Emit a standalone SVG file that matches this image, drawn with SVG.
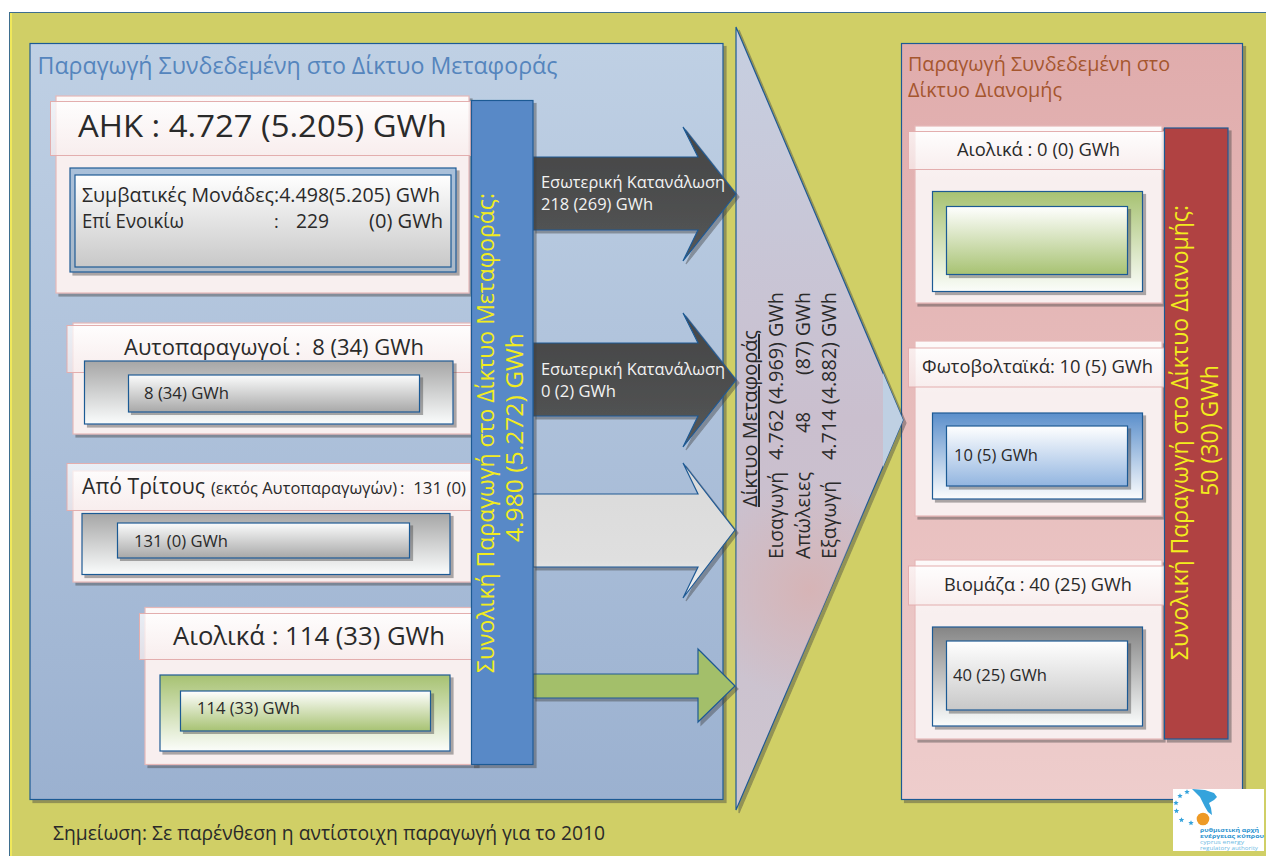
<svg xmlns="http://www.w3.org/2000/svg" xmlns:xlink="http://www.w3.org/1999/xlink" width="1266" height="856" viewBox="0 0 1266 856">
<defs>
<linearGradient id="gPanelL" x1="0" y1="0" x2="0" y2="1"><stop offset="0" stop-color="#BFD0E4"/><stop offset="1" stop-color="#9BB1D0"/></linearGradient>
<linearGradient id="gPanelR" x1="0" y1="0" x2="0" y2="1"><stop offset="0" stop-color="#E0ACAC"/><stop offset="1" stop-color="#EECDCC"/></linearGradient>
<linearGradient id="gCard" x1="0" y1="0" x2="0" y2="1"><stop offset="0" stop-color="#FDFAFA"/><stop offset="0.3" stop-color="#F8EFEF"/><stop offset="1" stop-color="#F8EFEF"/></linearGradient>
<linearGradient id="gHead" x1="0" y1="0" x2="0" y2="1"><stop offset="0" stop-color="#FFFFFF"/><stop offset="1" stop-color="#F8EDED"/></linearGradient>
<linearGradient id="gAhk" x1="0" y1="0" x2="0" y2="1"><stop offset="0" stop-color="#A9C0DA"/><stop offset="1" stop-color="#A9B8C8"/></linearGradient>
<linearGradient id="gWG" x1="0" y1="0" x2="0" y2="1"><stop offset="0" stop-color="#FFFFFF"/><stop offset="1" stop-color="#C8C8C8"/></linearGradient>
<linearGradient id="gGW" x1="0" y1="0" x2="0" y2="1"><stop offset="0" stop-color="#A6A6A6"/><stop offset="1" stop-color="#FAFCFC"/></linearGradient>
<linearGradient id="gDW" x1="0" y1="0" x2="0" y2="1"><stop offset="0" stop-color="#858585"/><stop offset="1" stop-color="#FAFCFC"/></linearGradient>
<linearGradient id="gWDG" x1="0" y1="0" x2="0" y2="1"><stop offset="0" stop-color="#FBFCFC"/><stop offset="1" stop-color="#A8A8A8"/></linearGradient>
<linearGradient id="gGrW" x1="0" y1="0" x2="0" y2="1"><stop offset="0" stop-color="#A7C272"/><stop offset="1" stop-color="#FBFDFA"/></linearGradient>
<linearGradient id="gWGr" x1="0" y1="0" x2="0" y2="1"><stop offset="0" stop-color="#FFFFFF"/><stop offset="1" stop-color="#A7C272"/></linearGradient>
<linearGradient id="gBW" x1="0" y1="0" x2="0" y2="1"><stop offset="0" stop-color="#5B8FCB"/><stop offset="1" stop-color="#FBFCFD"/></linearGradient>
<linearGradient id="gWB" x1="0" y1="0" x2="0" y2="1"><stop offset="0" stop-color="#FFFFFF"/><stop offset="1" stop-color="#92B5E0"/></linearGradient>
<linearGradient id="gHub" x1="0" y1="0" x2="0" y2="1"><stop offset="0" stop-color="#C6CFE1"/><stop offset="0.5" stop-color="#CABFCE"/><stop offset="1" stop-color="#CDC5D0"/></linearGradient>
<radialGradient id="gPink" gradientUnits="userSpaceOnUse" cx="810" cy="590" r="110"><stop offset="0" stop-color="#D6B4B6"/><stop offset="1" stop-color="#D6B4B6" stop-opacity="0"/></radialGradient>
<linearGradient id="gDark" x1="0" y1="0" x2="0" y2="1"><stop offset="0" stop-color="#444546"/><stop offset="1" stop-color="#555656"/></linearGradient>
<linearGradient id="gLight" x1="0" y1="0" x2="0" y2="1"><stop offset="0" stop-color="#DADADA"/><stop offset="0.72" stop-color="#DFDFDF"/><stop offset="1" stop-color="#F6F6F6"/></linearGradient>
<filter id="sh" x="-5%" y="-5%" width="112%" height="112%"><feDropShadow dx="3" dy="3" stdDeviation="0.4" flood-color="#3A3A3A" flood-opacity="0.42"/></filter>
<polygon id="star" points="0,-2.8 0.8,-0.9 2.7,-0.9 1.2,0.4 1.7,2.3 0,1.2 -1.7,2.3 -1.2,0.4 -2.7,-0.9 -0.8,-0.9"/>
</defs>
<style>
text{font-family:"Open Sans","Noto Sans","DejaVu Sans",sans-serif;fill:#2A2A2A}
.card{fill:url(#gCard);stroke:#E6B8B8;stroke-width:1.2;filter:url(#sh)}
.head{fill:url(#gHead);fill-opacity:.75;stroke:#E3AEAE;stroke-width:1}
.box{stroke:#1F5A94;stroke-width:1.2;filter:url(#sh)}
.flat{stroke:#1F5A94;stroke-width:1.2}
.y{fill:#F2EC1E}
.w{fill:#F2F2F2}
</style>
<rect x="0" y="0" width="1266" height="856" fill="#FFFFFF"/>
<rect x="9.500" y="12.500" width="1257" height="845" fill="#D0CF66" stroke="#3E6E8E" stroke-width="1"/>
<rect x="10" y="13" width="2" height="843" fill="#F0E85A"/>

<g id="panel-transmission">
<rect x="30" y="43.500" width="693" height="756" fill="url(#gPanelL)" class="box"/>
<text x="37.500" y="74" font-size="23" textLength="520" lengthAdjust="spacingAndGlyphs" style="fill:#5585BD">Παραγωγή Συνδεδεμένη στο Δίκτυο Μεταφοράς</text>
</g>

<g id="panel-distribution">
<rect x="901.500" y="43.500" width="341" height="756" fill="url(#gPanelR)" class="box"/>
<text x="908" y="71" font-size="20.500" textLength="262" lengthAdjust="spacingAndGlyphs" style="fill:#A5562E">Παραγωγή Συνδεδεμένη στο</text>
<text x="908" y="97" font-size="20.500" textLength="154" lengthAdjust="spacingAndGlyphs" style="fill:#A5562E">Δίκτυο Διανομής</text>
</g>

<g id="hub">
<polygon points="736,27 903,420 736,810" fill="url(#gHub)" class="box"/>
<polygon points="736,27 903,420 736,810" fill="url(#gPink)"/>
<polygon points="883,373 903,420 883,467" fill="#BFD0E3"/>
<text transform="translate(757,507) rotate(-90)" font-size="20" textLength="177" lengthAdjust="spacingAndGlyphs" text-decoration="underline">Δίκτυο Μεταφοράς</text>
<text transform="translate(783,559) rotate(-90)" font-size="20" textLength="87" lengthAdjust="spacingAndGlyphs">Εισαγωγή</text>
<text transform="translate(783,460) rotate(-90)" font-size="20" textLength="168" lengthAdjust="spacingAndGlyphs">4.762 (4.969) GWh</text>
<text transform="translate(810,559) rotate(-90)" font-size="20" textLength="87" lengthAdjust="spacingAndGlyphs">Απώλειες</text>
<text transform="translate(810,433) rotate(-90)" font-size="20" textLength="21" lengthAdjust="spacingAndGlyphs">48</text>
<text transform="translate(810,375) rotate(-90)" font-size="20" textLength="83" lengthAdjust="spacingAndGlyphs">(87) GWh</text>
<text transform="translate(836,559) rotate(-90)" font-size="20" textLength="78" lengthAdjust="spacingAndGlyphs">Εξαγωγή</text>
<text transform="translate(836,460) rotate(-90)" font-size="20" textLength="168" lengthAdjust="spacingAndGlyphs">4.714 (4.882) GWh</text>
</g>

<g id="connectors">
<polygon points="533,157 698,157 683,127 736,194 683,261 698,230 533,230" fill="url(#gDark)" class="box"/>
<polygon points="533,343 698,343 683,313 736,380 683,447 698,416 533,416" fill="url(#gDark)" class="box"/>
<polygon points="533,494 698,494 683,463 735,530 683,598 698,567 533,567" fill="url(#gLight)" class="box"/>
<polygon points="533,674 698,674 698,649 735,686 698,722 698,698 533,698" fill="#A3BF6B" class="box"/>
</g>
<text x="541" y="188" font-size="17" textLength="184" lengthAdjust="spacingAndGlyphs" class="w">Εσωτερική Κατανάλωση</text>
<text x="541" y="210" font-size="17" textLength="112" lengthAdjust="spacingAndGlyphs" class="w">218 (269) GWh</text>
<text x="541" y="375" font-size="17" textLength="184" lengthAdjust="spacingAndGlyphs" class="w">Εσωτερική Κατανάλωση</text>
<text x="541" y="397" font-size="17" textLength="75" lengthAdjust="spacingAndGlyphs" class="w">0 (2) GWh</text>

<g id="ahk">
<rect x="56" y="96" width="413" height="197" class="card"/>
<rect x="50.500" y="101.500" width="420" height="54" class="head"/>
<text x="78" y="137" font-size="31" textLength="369" lengthAdjust="spacingAndGlyphs">ΑΗΚ : 4.727 (5.205) GWh</text>
<rect x="70" y="168" width="386" height="104" fill="url(#gAhk)" class="box"/>
<rect x="75" y="175" width="376" height="92" fill="url(#gWG)" class="flat"/>
<text x="82" y="202" font-size="19.500" textLength="358" lengthAdjust="spacingAndGlyphs">Συμβατικές Μονάδες:4.498(5.205) GWh</text>
<text x="82" y="228" font-size="19.500" textLength="102" lengthAdjust="spacingAndGlyphs">Επί Ενοικίω</text>
<text x="274" y="228" font-size="18">:</text>
<text x="296" y="228" font-size="19.500" textLength="33" lengthAdjust="spacingAndGlyphs">229</text>
<text x="369" y="228" font-size="19.500" textLength="74" lengthAdjust="spacingAndGlyphs">(0) GWh</text>
</g>

<g id="autoproducers">
<rect x="73" y="323" width="398" height="111" class="card"/>
<rect x="67" y="325.500" width="404" height="47" class="head"/>
<text x="124" y="355" font-size="21" textLength="300" lengthAdjust="spacingAndGlyphs" xml:space="preserve">Αυτοπαραγωγοί :  8 (34) GWh</text>
<rect x="84.500" y="361" width="368.500" height="63" fill="url(#gGW)" class="box"/>
<rect x="128.500" y="375" width="291" height="37" fill="url(#gWDG)" class="box"/>
<text x="144" y="399" font-size="17" textLength="85" lengthAdjust="spacingAndGlyphs">8 (34) GWh</text>
</g>

<g id="third-party">
<rect x="73" y="471" width="398" height="111" class="card"/>
<rect x="67" y="463.500" width="404" height="47" class="head"/>
<text x="82" y="494" font-size="21" textLength="123" lengthAdjust="spacingAndGlyphs">Από Τρίτους</text>
<text x="211" y="494" font-size="15.500" textLength="186" lengthAdjust="spacingAndGlyphs">(εκτός Αυτοπαραγωγών)</text>
<text x="400" y="494" font-size="17" textLength="66" lengthAdjust="spacingAndGlyphs" xml:space="preserve">:  131 (0)</text>
<rect x="82" y="513.500" width="368" height="61" fill="url(#gGW)" class="box"/>
<rect x="117.500" y="523" width="292" height="35" fill="url(#gWDG)" class="box"/>
<text x="134" y="547" font-size="17" textLength="94" lengthAdjust="spacingAndGlyphs">131 (0) GWh</text>
</g>

<g id="wind-transmission">
<rect x="145" y="607.500" width="331" height="157" class="card"/>
<rect x="139.500" y="613.500" width="336" height="46" class="head"/>
<text x="173" y="645" font-size="25" textLength="272" lengthAdjust="spacingAndGlyphs">Αιολικά : 114 (33) GWh</text>
<rect x="160" y="675" width="290" height="76" fill="url(#gGrW)" class="box"/>
<rect x="180.500" y="691" width="250" height="40" fill="url(#gWGr)" class="box"/>
<text x="197" y="714" font-size="16.500" textLength="103" lengthAdjust="spacingAndGlyphs">114 (33) GWh</text>
</g>

<g id="total-transmission">
<rect x="471.500" y="100.500" width="61.500" height="664" fill="#5889C7" class="box"/>
<text transform="translate(494,673) rotate(-90)" font-size="24" textLength="480" lengthAdjust="spacingAndGlyphs" class="y">Συνολική Παραγωγή στο Δίκτυο Μεταφοράς:</text>
<text transform="translate(523,542) rotate(-90)" font-size="24" textLength="209" lengthAdjust="spacingAndGlyphs" class="y">4.980 (5.272) GWh</text>
</g>

<g id="wind-distribution">
<rect x="915" y="126" width="247" height="177" class="card"/>
<rect x="908.500" y="131.500" width="256" height="38" class="head"/>
<text x="957" y="156" font-size="17.500" textLength="163" lengthAdjust="spacingAndGlyphs">Αιολικά : 0 (0) GWh</text>
<rect x="932.500" y="191.500" width="210" height="100" fill="url(#gGrW)" class="box"/>
<rect x="946.500" y="206.500" width="181" height="68" fill="url(#gWGr)" class="box"/>
</g>

<g id="pv">
<rect x="915" y="341" width="247" height="175" class="card"/>
<rect x="908.500" y="348" width="256" height="39" class="head"/>
<text x="922" y="373" font-size="17.500" textLength="231" lengthAdjust="spacingAndGlyphs">Φωτοβολταϊκά: 10 (5) GWh</text>
<rect x="932.500" y="413" width="210" height="86" fill="url(#gBW)" class="box"/>
<rect x="946.500" y="426" width="181" height="60" fill="url(#gWB)" class="box"/>
<text x="954" y="461" font-size="16.500" textLength="84" lengthAdjust="spacingAndGlyphs">10 (5) GWh</text>
</g>

<g id="biomass">
<rect x="915" y="560" width="247" height="179" class="card"/>
<rect x="908.500" y="566" width="256" height="39" class="head"/>
<text x="944" y="591" font-size="17.500" textLength="188" lengthAdjust="spacingAndGlyphs">Βιομάζα : 40 (25) GWh</text>
<rect x="932.500" y="627" width="210" height="99" fill="url(#gDW)" class="box"/>
<rect x="946.500" y="641" width="181" height="69" fill="url(#gWG)" class="box"/>
<text x="953" y="681" font-size="16.500" textLength="94" lengthAdjust="spacingAndGlyphs">40 (25) GWh</text>
</g>

<g id="total-distribution">
<rect x="1164.500" y="128" width="63.500" height="611" fill="#B04242" class="box"/>
<text transform="translate(1188,660) rotate(-90)" font-size="24" textLength="455" lengthAdjust="spacingAndGlyphs" class="y">Συνολική Παραγωγή στο Δίκτυο Διανομής:</text>
<text transform="translate(1218,496) rotate(-90)" font-size="24" textLength="131" lengthAdjust="spacingAndGlyphs" class="y">50 (30) GWh</text>
</g>

<text x="53" y="840" font-size="20.500" textLength="552" lengthAdjust="spacingAndGlyphs">Σημείωση: Σε παρένθεση η αντίστοιχη παραγωγή για το 2010</text>

<g id="logo">
<rect x="1173" y="789" width="91" height="62" fill="#FFFFFF"/>
<polygon points="1192,789 1205,790 1214,793 1217,797 1214,800 1209,803 1211,808 1212,815 1208,812 1205,807 1200,797" fill="#35A3DC"/>
<circle cx="1203" cy="819" r="6.300" fill="#EE9A26"/>
<g fill="#35A3DC">
<use xlink:href="#star" href="#star" x="1187" y="792"/>
<use xlink:href="#star" href="#star" x="1180" y="796"/>
<use xlink:href="#star" href="#star" x="1176" y="803"/>
<use xlink:href="#star" href="#star" x="1176.500" y="811"/>
<use xlink:href="#star" href="#star" x="1181.500" y="820"/>
<use xlink:href="#star" href="#star" x="1191" y="823"/>
</g>
<text x="1200" y="832" font-size="6" font-weight="700" textLength="59" lengthAdjust="spacingAndGlyphs" style="fill:#2B93CF">ρυθμιστική αρχή</text>
<text x="1200" y="837.500" font-size="6" font-weight="700" textLength="64" lengthAdjust="spacingAndGlyphs" style="fill:#2B93CF">ενέργειας κύπρου</text>
<text x="1200" y="843.500" font-size="6" textLength="44" lengthAdjust="spacingAndGlyphs" style="fill:#6FBBE3">cyprus energy</text>
<text x="1200" y="849.500" font-size="6" textLength="58" lengthAdjust="spacingAndGlyphs" style="fill:#6FBBE3">regulatory authority</text>
</g>
</svg>
